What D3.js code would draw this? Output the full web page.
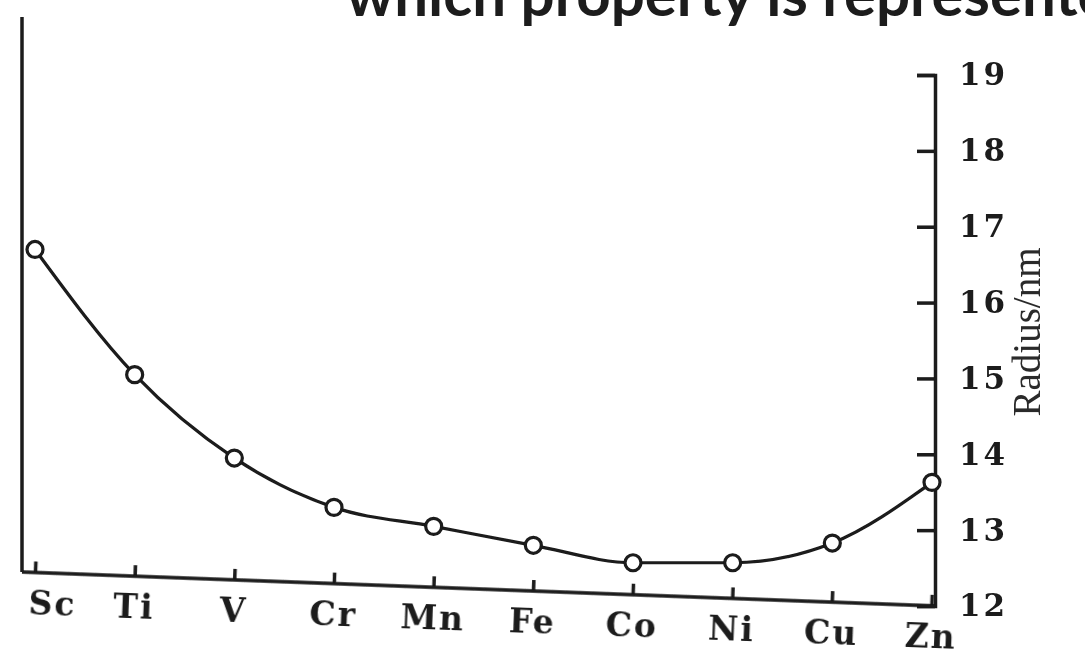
<!DOCTYPE html>
<html>
<head>
<meta charset="utf-8">
<script src="https://cdn.jsdelivr.net/npm/d3@7"></script>
<style>
  body { margin: 0; background: #fff; }
  svg { display: block; }
</style>
</head>
<body>
<svg id="svg" width="1085" height="654"></svg>
<script>
let elements = ["Sc", "Ti", "V", "Cr", "Mn", "Fe", "Co", "Ni", "Cu", "Zn"];
let radius = [16.7, 15.05, 13.95, 13.3, 13.05, 12.8, 12.57, 12.57, 12.83, 13.63];
let yTicks = [12, 13, 14, 15, 16, 17, 18, 19];
let titleText = "which property is represented";
let yTitle = "Radius/nm";

let svg = d3.select("#svg");
let ink = "#1a1a1a";

// soft blur to mimic the scanned original
svg.append("defs").append("filter")
    .attr("id", "scan")
    .append("feGaussianBlur")
    .attr("stdDeviation", 0.6);

let chart = svg.append("g").attr("filter", "url(#scan)");

let xScale = d3.scalePoint()
    .domain(elements)
    .range([35, 932]);

let yScale = d3.scaleLinear()
    .domain([12, 19])
    .range([606, 75]);

// title, cut off at the top edge like the source
chart.append("text")
    .attr("x", 346)
    .attr("y", 16)
    .style("font-family", "Lato, sans-serif")
    .style("font-weight", "bold")
    .style("font-size", "60px")
    .attr("fill", ink)
    .text(titleText);

// left frame line
chart.append("line")
    .attr("x1", 22).attr("x2", 22)
    .attr("y1", 17).attr("y2", 572)
    .attr("stroke", ink)
    .attr("stroke-width", 3.5);

// bottom axis, slightly skewed like the scan
let xAxis = chart.append("g")
    .attr("transform", "translate(22,572) rotate(2.13) translate(-22,0)")
    .call(d3.axisBottom(xScale).tickSize(-11).tickPadding(19));

xAxis.select(".domain").remove();
xAxis.append("line")
    .attr("x1", 22).attr("x2", 935)
    .attr("stroke", ink)
    .attr("stroke-width", 3.5);
xAxis.selectAll(".tick line")
    .attr("stroke", ink)
    .attr("stroke-width", 3.5);
xAxis.selectAll(".tick text")
    .attr("fill", ink)
    .style("font-family", "'DejaVu Serif', serif")
    .style("font-weight", "bold")
    .style("font-size", "33px")
    .style("letter-spacing", "2px")
    .attr("dx", function(d) {
        if (d == "Sc") return "0.55em";
        return 0;
    });

// right value axis
let yAxis = chart.append("g")
    .attr("transform", "translate(935,0)")
    .call(d3.axisRight(yScale).tickValues(yTicks).tickSize(-18).tickPadding(24).tickFormat(d3.format("d")));

yAxis.select(".domain")
    .attr("stroke", ink)
    .attr("stroke-width", 3.5);
yAxis.selectAll(".tick line")
    .attr("stroke", ink)
    .attr("stroke-width", 3.5);
yAxis.selectAll(".tick text")
    .attr("fill", ink)
    .style("font-family", "'DejaVu Serif', serif")
    .style("font-weight", "bold")
    .style("font-size", "31px")
    .style("letter-spacing", "3px");

chart.append("text")
    .attr("transform", "translate(1040,332) rotate(-90)")
    .attr("text-anchor", "middle")
    .attr("fill", "#2a2a2a")
    .style("font-family", "'Liberation Serif', serif")
    .style("font-size", "39px")
    .text(yTitle);

// the curve
let line = d3.line()
    .x(function(d, i) { return xScale(elements[i]); })
    .y(function(d) { return yScale(d); })
    .curve(d3.curveMonotoneX);

chart.append("path")
    .datum(radius)
    .attr("d", line)
    .attr("fill", "none")
    .attr("stroke", ink)
    .attr("stroke-width", 3.2);

chart.selectAll("circle.pt")
    .data(radius)
    .enter()
    .append("circle")
    .attr("class", "pt")
    .attr("cx", function(d, i) { return xScale(elements[i]); })
    .attr("cy", function(d) { return yScale(d); })
    .attr("r", 8)
    .attr("fill", "#fff")
    .attr("stroke", ink)
    .attr("stroke-width", 3.2);
</script>
</body>
</html>
